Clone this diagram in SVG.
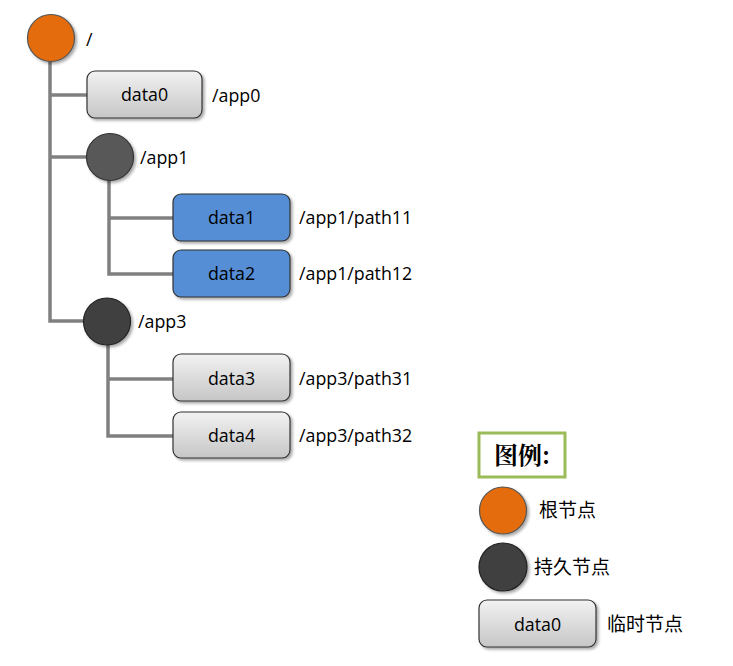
<svg xmlns="http://www.w3.org/2000/svg" width="733" height="666" viewBox="0 0 733 666">
<defs>
<linearGradient id="gray" x1="0" y1="0" x2="0" y2="1">
<stop offset="0" stop-color="#f2f2f2"/>
<stop offset="1" stop-color="#c6c6c6"/>
</linearGradient>
<filter id="sh" x="-20%" y="-20%" width="150%" height="150%">
<feGaussianBlur in="SourceAlpha" stdDeviation="1.5"/>
<feOffset dx="1.5" dy="2" result="b"/>
<feComponentTransfer><feFuncA type="linear" slope="0.35"/></feComponentTransfer>
<feMerge><feMergeNode/><feMergeNode in="SourceGraphic"/></feMerge>
</filter>
</defs>
<style>
.conn{fill:none;stroke:#808080;stroke-width:3.5}
.tmp{fill:url(#gray);stroke:#333;stroke-width:1.2}
.blue{fill:#558ed5;stroke:#333;stroke-width:1.2}
.root{fill:#e46c0a;stroke:#555;stroke-width:1.2}
.p1{fill:#595959;stroke:#333;stroke-width:1.2}
.p2{fill:#404040;stroke:#222;stroke-width:1.2}
text{font-family:"Open Sans","Liberation Sans","Noto Sans CJK SC",sans-serif;font-size:17.8px;fill:#000}
.c{text-anchor:middle}
.cjk{font-family:"Noto Sans CJK SC",sans-serif;font-size:19px}
</style>
<rect width="733" height="666" fill="#fff"/>
<g id="connectors">
<path class="conn" d="M50,61 V321 H84"/>
<path class="conn" d="M50,95 H87"/>
<path class="conn" d="M50,157 H87"/>
<path class="conn" d="M109,180 V274 H173"/>
<path class="conn" d="M109,218 H173"/>
<path class="conn" d="M108,345 V436 H173"/>
<path class="conn" d="M108,379 H173"/>
</g>
<g id="root"><circle class="root" cx="51" cy="38" r="23.5" filter="url(#sh)"/><text x="86" y="46">/</text></g>
<g id="data0"><rect class="tmp" x="87" y="71" width="115" height="47" rx="8" filter="url(#sh)"/><text class="c" x="144.5" y="101">data0</text><text x="212" y="102">/app0</text></g>
<g id="app1"><circle class="p1" cx="110" cy="157" r="23.5" filter="url(#sh)"/><text x="140" y="164">/app1</text></g>
<g id="data1"><rect class="blue" x="173" y="194" width="117" height="47" rx="8" filter="url(#sh)"/><text class="c" x="231.5" y="224">data1</text><text x="299" y="224">/app1/path11</text></g>
<g id="data2"><rect class="blue" x="173" y="250" width="117" height="47" rx="8" filter="url(#sh)"/><text class="c" x="231.5" y="280">data2</text><text x="299" y="280">/app1/path12</text></g>
<g id="app3"><circle class="p2" cx="107" cy="321.5" r="23.5" filter="url(#sh)"/><text x="138" y="328">/app3</text></g>
<g id="data3"><rect class="tmp" x="173" y="354" width="117" height="47" rx="8" filter="url(#sh)"/><text class="c" x="231.5" y="385">data3</text><text x="299" y="385">/app3/path31</text></g>
<g id="data4"><rect class="tmp" x="173" y="412" width="117" height="46" rx="8" filter="url(#sh)"/><text class="c" x="231.5" y="442">data4</text><text x="299" y="442">/app3/path32</text></g>
<g id="legend">
<rect x="479" y="433" width="86" height="44" fill="#fff" stroke="#9bbb59" stroke-width="3"/>
<text class="c" x="522" y="464" style="font-family:'Noto Serif CJK SC','Noto Sans CJK SC',serif;font-size:24px;font-weight:bold">图例:</text>
<circle class="root" cx="503" cy="510.5" r="23.5" filter="url(#sh)"/>
<text class="cjk" x="539" y="517">根节点</text>
<circle class="p2" cx="503" cy="567" r="24" filter="url(#sh)"/>
<text class="cjk" x="534" y="574">持久节点</text>
<rect class="tmp" x="479" y="600" width="117" height="47" rx="8" filter="url(#sh)"/>
<text class="c" x="537.5" y="631">data0</text>
<text class="cjk" x="607" y="631">临时节点</text>
</g>
</svg>
